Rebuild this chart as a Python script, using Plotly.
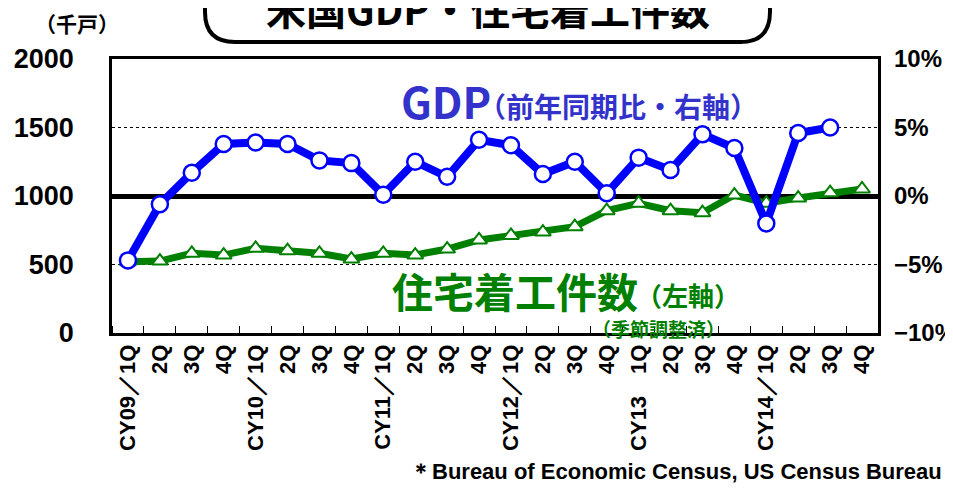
import plotly.graph_objects as go

quarters = ["CY09／1Q", "2Q", "3Q", "4Q",
            "CY10／1Q", "2Q", "3Q", "4Q",
            "CY11／1Q", "2Q", "3Q", "4Q",
            "CY12／1Q", "2Q", "3Q", "4Q",
            "CY13　1Q", "2Q", "3Q", "4Q",
            "CY14／1Q", "2Q", "3Q", "4Q"]

housing_starts = [520, 525, 582, 569, 618, 601, 582, 540, 582, 569, 613, 679,
                  712, 737, 776, 893, 947, 893, 878, 1007, 947, 985, 1024, 1051]

gdp_yoy = [-4.7, -0.6, 1.7, 3.8, 3.9, 3.8, 2.6, 2.4, 0.1, 2.5, 1.4, 4.1,
           3.7, 1.6, 2.5, 0.2, 2.8, 1.9, 4.5, 3.5, -2.0, 4.6, 5.0, None]

left_ticks = [0, 500, 1000, 1500, 2000]
right_ticks = [-10, -5, 0, 5, 10]
right_tick_text = ["−10%", "−5%", "0%", "5%", "10%"]

idx = list(range(len(quarters)))

BLUE = "#0000ff"
GREEN = "#008000"
JP = "Noto Sans CJK JP"
LAT = "Liberation Sans"

fig = go.Figure()
fig.add_trace(go.Scatter(
    x=idx, y=housing_starts, mode="lines+markers", yaxis="y",
    line=dict(color=GREEN, width=7),
    marker=dict(symbol="triangle-up", size=14, color="white",
                line=dict(color=GREEN, width=2)),
    showlegend=False, cliponaxis=False))
fig.add_trace(go.Scatter(
    x=idx, y=gdp_yoy, mode="lines+markers", yaxis="y2",
    line=dict(color=BLUE, width=8),
    marker=dict(symbol="circle", size=16, color="white",
                line=dict(color=BLUE, width=2.5)),
    showlegend=False, cliponaxis=False))

# The page adds an 8px body margin, so the figure (937x475) sits at page (8, 8).
# Positions below are page pixels; plot area is page x 112..878, y 59..333.
def px(x):
    return (x - 112) / 766.0

def py(y):
    return (333 - y) / 274.0

# rounded title box
x0, x1, y0, y1 = 205, 770, -20, 42
r = 30
path = (f"M {px(x0+r)},{py(y1)} L {px(x1-r)},{py(y1)} "
        f"Q {px(x1)},{py(y1)} {px(x1)},{py(y1-r)} "
        f"L {px(x1)},{py(y0)} L {px(x0)},{py(y0)} "
        f"L {px(x0)},{py(y1-r)} Q {px(x0)},{py(y1)} {px(x0+r)},{py(y1)} Z")


def ann(text, x, y, size, color, family=JP, xanchor="left"):
    return dict(text=text, x=px(x), y=py(y), xref="paper", yref="paper",
                xanchor=xanchor, yanchor="middle", showarrow=False,
                font=dict(family=family, size=size, color=color))


fig.update_layout(
    width=937, height=475,
    margin=dict(l=104, r=67, t=51, b=150, autoexpand=False),
    paper_bgcolor="white", plot_bgcolor="white",
    xaxis=dict(
        range=[-0.5, 23.5], tickmode="array", tickvals=idx, ticktext=quarters,
        tickangle=-90, ticks="", showgrid=False, zeroline=False, automargin=False,
        showline=True, linecolor="black", linewidth=2.5, mirror=True,
        tickfont=dict(family=LAT, size=22, color="black", weight="bold"),
        minor=dict(tick0=0.5, dtick=1, ticks="inside", ticklen=7,
                   tickcolor="black", tickwidth=1.2, showgrid=False),
    ),
    yaxis=dict(
        range=[0, 2000], tickmode="array", tickvals=left_ticks, automargin=False,
        showgrid=True, gridcolor="black", griddash="dot", gridwidth=1,
        zeroline=False, ticks="",
        showline=True, linecolor="black", linewidth=2.5, mirror=True,
        tickfont=dict(family=LAT, size=27, color="black", weight="bold"),
        ticklabelstandoff=30,
    ),
    yaxis2=dict(
        range=[-10, 10], overlaying="y", side="right", automargin=False,
        tickmode="array", tickvals=right_ticks, ticktext=right_tick_text,
        showgrid=False, zeroline=True, zerolinecolor="black", zerolinewidth=5,
        ticks="", showline=False,
        tickfont=dict(family=LAT, size=24, color="black", weight="bold"),
        ticklabelstandoff=15,
    ),
    shapes=[dict(type="path", path=path, xref="paper", yref="paper",
                 line=dict(color="black", width=4), fillcolor="white",
                 layer="above")],
    annotations=[
        ann("<b>米国GDP・住宅着工件数</b>", 488, 8, 40, "black", xanchor="center"),
        ann("<b>（千戸）</b>", 77, 23, 21, "black", xanchor="center"),
        ann("<b>GDP</b>", 399, 100, 43, "#3333cc"),
        ann("<b>（前年同期比・右軸）</b>", 476, 106, 28, "#3333cc"),
        ann("<b>住宅着工件数</b>", 390, 290, 41, GREEN),
        ann("<b>（左軸）</b>", 634, 294, 26, GREEN),
        ann("<b>（季節調整済）</b>", 590, 328, 19, GREEN),
        ann("<b>＊Bureau of Economic Census, US Census Bureau</b>", 944, 472, 22,
            "black", family=LAT, xanchor="right"),
    ],
)

fig.write_html("out.html")
